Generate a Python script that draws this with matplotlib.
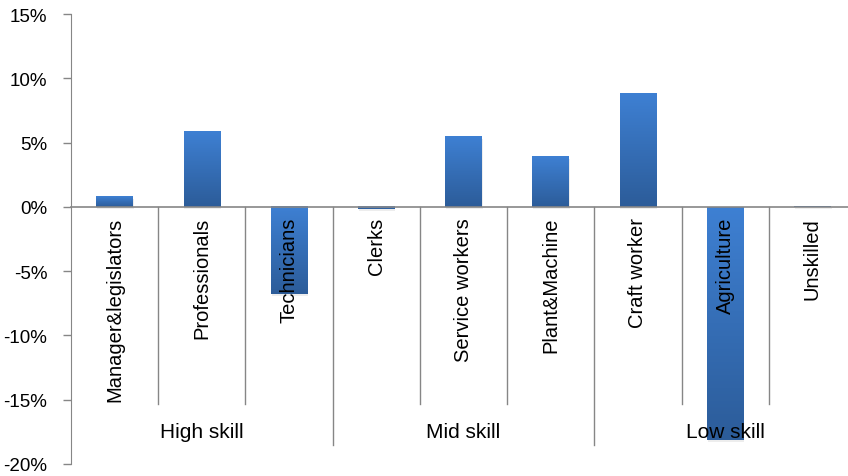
import numpy as np
import matplotlib.pyplot as plt
from matplotlib.colors import LinearSegmentedColormap
from matplotlib.transforms import offset_copy

occupations = ["Manager&legislators", "Professionals", "Technicians",
               "Clerks", "Service workers", "Plant&Machine",
               "Craft worker", "Agriculture", "Unskilled"]
change = [0.8, 5.9, -6.8, -0.2, 5.45, 3.9, 8.85, -18.1, 0.05]
groups = ["High skill", "Mid skill", "Low skill"]
group_size = [3, 3, 3]

plt.rcParams['font.family'] = ['Liberation Sans', 'DejaVu Sans']
axis_grey = "#868686"

fig = plt.figure(figsize=(8.48, 4.77), dpi=100)
W, H = 848, 477
ax = fig.add_axes([71 / W, 12 / H, (856 - 71) / W, (465 - 15) / H])

x = np.arange(len(occupations))
bars = ax.bar(x, change, width=0.42, color="none", zorder=3)

# vertical gradient, light at top to dark at bottom
cmap = LinearSegmentedColormap.from_list("bar", ["#3e80d3", "#2c5c99"])
grad = np.linspace(0, 1, 256).reshape(-1, 1)
for b in bars:
    x0, y0 = b.get_x(), b.get_y()
    w, h = b.get_width(), b.get_height()
    lo, hi = min(y0, y0 + h), max(y0, y0 + h)
    # soft shadow
    ax.add_patch(plt.Rectangle((x0 + 0.01, lo - 0.15), w, hi - lo, color="#000000",
                               alpha=0.07, lw=0, zorder=2))
    ax.imshow(grad, cmap=cmap, aspect="auto", extent=(x0, x0 + w, lo, hi),
              zorder=3, interpolation="bilinear")

ax.set_xlim(-0.5, len(occupations) - 0.5)
ax.set_ylim(-20, 15)
ax.set_yticks(np.arange(-20, 16, 5))
ax.set_yticklabels([f"{v}%" for v in range(-20, 16, 5)], fontsize=13.5)
ax.tick_params(axis="y", length=6, color=axis_grey, width=1, pad=11)
ax.set_xticks([])

for s in ["top", "right", "bottom"]:
    ax.spines[s].set_visible(False)
ax.spines["left"].set_color(axis_grey)
ax.axhline(0, color=axis_grey, lw=1.2, zorder=4, clip_on=False)

# category labels
lab_tr = offset_copy(ax.transData, fig=fig, x=0, y=-10, units="dots")
for xi, name in zip(x, occupations):
    ax.text(xi, 0, name, rotation=90, ha="center", va="top", fontsize=14.5,
            transform=lab_tr, zorder=5)

# separators
start = 0
for gi, (g, n) in enumerate(zip(groups, group_size)):
    for k in range(1, n):
        ax.plot([start + k - 0.5] * 2, [0, -15.3], color=axis_grey, lw=1, zorder=1,
                clip_on=False)
    if gi > 0:
        ax.plot([start - 0.5] * 2, [0, -18.5], color=axis_grey, lw=1, zorder=1,
                clip_on=False)
    ax.text(start + (n - 1) / 2, -17.5, g, ha="center", va="center", fontsize=15,
            zorder=5)
    start += n
ax.plot([start - 0.5] * 2, [0, -18.5], color=axis_grey, lw=1, zorder=1, clip_on=False)

fig.savefig("out.png", dpi=100)
